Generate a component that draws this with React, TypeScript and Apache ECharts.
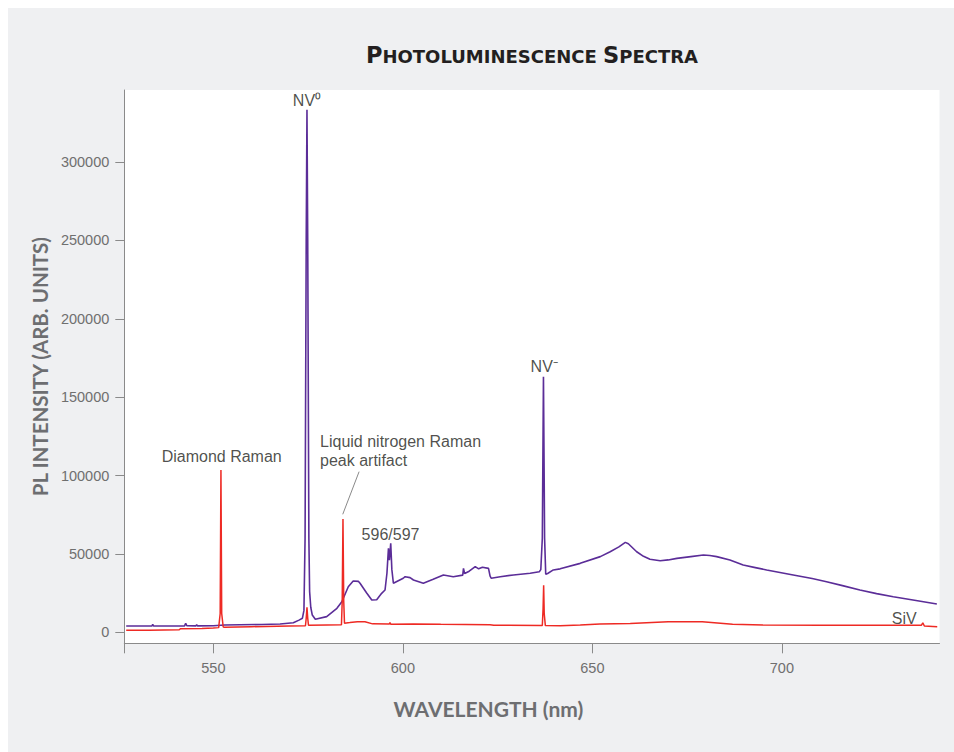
import { useEffect, useRef } from "react";
import * as echarts from "echarts";

// ---- Data ----
const purpleWavelength = [
  527.0, 530.0, 533.8, 534.0, 534.2, 538.0, 542.4, 542.7, 543.0, 545.4, 545.6, 545.8, 550.0, 553.0, 557.0,
  562.8, 567.6, 571.1, 572.6, 573.5, 573.9, 574.2, 574.5, 574.7, 574.9, 575.2, 575.4, 575.7, 576.1, 576.9,
  579.9, 582.6, 583.9, 585.6, 586.9, 588.3, 588.7, 590.5, 591.8, 593.1, 594.4, 595.3, 595.8, 596.2, 596.45,
  596.8, 597.1, 597.5, 600.1, 600.6, 601.9, 602.8, 605.4, 608.0, 610.7, 613.3, 615.8, 616.0, 616.3, 617.5,
  619.1, 620.0, 621.0, 622.6, 623.0, 623.3, 625.7, 629.2, 633.6, 636.0, 636.4, 636.8, 637.1, 637.4, 637.7,
  638.2, 639.7, 641.5, 646.8, 652.1, 654.7, 657.0, 658.7, 659.5, 661.7, 663.5, 665.2, 667.9, 670.0, 672.3,
  676.0, 679.3, 681.0, 682.8, 686.3, 689.8, 693.0, 696.0, 703.0, 708.0, 711.8, 716.0, 720.6, 725.0, 729.4,
  735.0, 740.9,
];
const purpleIntensity = [
  4000, 4050, 4000, 5200, 4000, 4050, 4100, 5800, 4200, 4100, 4800, 4100, 4200, 4700, 4800,
  5000, 5300, 6100, 7800, 9000, 14000, 60000, 250000, 333400, 250000, 60000, 26000, 16000, 11000, 8300,
  10000, 15300, 19500, 29100, 32700, 32500, 31300, 24900, 20600, 20800, 24900, 27000, 37700, 53600, 46100,
  56800, 40000, 31300, 34500, 35500, 34900, 33400, 31300, 33800, 36600, 35500, 36500, 40800, 37500, 39000,
  41900, 40500, 41500, 40800, 36000, 34500, 35500, 36600, 37700, 38700, 40000, 60000, 163000, 60000, 37000,
  37500, 39800, 40500, 44000, 48300, 51400, 54500, 57400, 56500, 51400, 48500, 46600, 45700, 46200, 47200,
  48300, 49300, 49000, 48300, 46100, 42900, 41300, 39800, 36600, 34300, 32300, 29800, 27000, 24700, 22700,
  20500, 18100,
];

const redWavelength = [
  527.0, 533.0, 541.0, 541.3, 547.0, 550.0, 551.4, 551.8, 552.0, 552.2, 552.6, 553.0, 560.0, 570.0, 574.3,
  574.5, 574.7, 574.9, 575.1, 580.0, 583.8, 584.0, 584.2, 584.4, 584.6, 586.0, 588.0, 590.0, 592.0, 596.4,
  596.6, 596.8, 602.7, 610.0, 623.0, 624.0, 636.8, 637.0, 637.15, 637.3, 637.6, 641.5, 646.8, 652.0, 660.0,
  670.0, 679.0, 687.0, 695.0, 710.0, 736.8, 737.2, 737.6, 741.0,
];
const redIntensity = [
  1300, 1400, 1600, 2300, 2400, 2700, 3000, 12000, 103600, 12000, 3400, 3200, 3600, 4000, 4200,
  9000, 16000, 9000, 4500, 4700, 4800, 20000, 72300, 20000, 5800, 6200, 6800, 6700, 5400, 5300,
  6200, 5200, 5300, 5100, 4900, 4500, 4400, 15000, 30000, 12000, 4300, 4200, 4700, 5300, 5700,
  6800, 6800, 5100, 4600, 4500, 4500, 6100, 4000, 3600,
];

const annotationLabels = ["NV\u2070", "NV\u207B", "Diamond Raman", "Liquid nitrogen Raman\npeak artifact", "596/597", "SiV"];
const annotationWavelength = [574.7, 637.3, 552.2, 578.15, 596.75, 732.3];
const annotationIntensity = [339100, 169500, 111900, 115700, 62100, 8900];

const leaderStart = [588.45, 102500];
const leaderEnd = [584.14, 75300];

const xTickLabels = [550, 600, 650, 700];
const yTickLabels = [0, 50000, 100000, 150000, 200000, 250000, 300000];

const X_MIN = 526.5;
const X_MAX = 741.6;
const Y_MIN = -7000;
const Y_MAX = 346000;

const PURPLE = "#5b2d98";
const RED = "#ee2a24";
const AXIS_GRAY = "#8a8a8a";
const LABEL_GRAY = "#6f6f6f";
const NAME_GRAY = "#6d6e71";
const TEXT_DARK = "#231f20";
const BG = "#eff0f2";
const SANS = "'Liberation Sans', Arial, Helvetica, sans-serif";
const NAME_FONT = "Lato, 'Open Sans', sans-serif";
const TITLE_FONT = "'DejaVu Sans', Lato, sans-serif";

export default function App() {
  const ref = useRef<HTMLDivElement>(null);

  useEffect(() => {
    document.documentElement.style.overflow = "hidden";
    document.body.style.overflow = "hidden";
    const chart = echarts.init(ref.current!, null, { renderer: "svg" });

    const purpleData = purpleWavelength.map((w, i) => [w, purpleIntensity[i]]);
    const redData = redWavelength.map((w, i) => [w, redIntensity[i]]);
    const annData = annotationLabels.map((t, i) => ({
      name: t,
      value: [annotationWavelength[i], annotationIntensity[i]],
      label: { align: t.indexOf("\n") >= 0 ? "left" : "center" },
    }));

    chart.setOption({
      animation: false,
      backgroundColor: BG,
      title: {
        text: "{b|P}{s|HOTOLUMINESCENCE} {b|S}{s|PECTRA}",
        left: 519,
        top: 30,
        textAlign: "center",
        textStyle: {
          fontFamily: TITLE_FONT,
          fontWeight: "bold",
          fontSize: 18,
          color: TEXT_DARK,
          rich: {
            b: { fontFamily: TITLE_FONT, fontWeight: "bold", fontSize: 22.5, color: TEXT_DARK },
            s: { fontFamily: TITLE_FONT, fontWeight: "bold", fontSize: 18, color: TEXT_DARK, padding: [3, 0, 0, 0] },
          },
        },
      },
      grid: {
        left: 116.3,
        top: 82,
        width: 815.2,
        height: 553.3,
        show: true,
        backgroundColor: "#ffffff",
        borderWidth: 0,
      },
      xAxis: {
        type: "value",
        min: X_MIN,
        max: X_MAX,
        name: "WAVELENGTH (nm)",
        nameLocation: "middle",
        nameGap: 55,
        nameTextStyle: {
          fontFamily: NAME_FONT,
          fontWeight: "bold",
          fontSize: 21,
          color: NAME_GRAY,
          padding: [0, 87, 0, 0],
        },
        axisLine: { show: true, onZero: false, lineStyle: { color: AXIS_GRAY, width: 1 } },
        axisTick: {
          show: true,
          length: 10,
          customValues: [X_MIN, ...xTickLabels],
          lineStyle: { color: AXIS_GRAY, width: 1 },
        },
        axisLabel: {
          customValues: xTickLabels,
          margin: 17,
          fontFamily: SANS,
          fontSize: 14.5,
          color: LABEL_GRAY,
          formatter: (v: number) => String(v),
        },
        splitLine: { show: false },
      },
      yAxis: {
        type: "value",
        min: Y_MIN,
        max: Y_MAX,
        name: "PL INTENSITY (ARB. UNITS)",
        nameLocation: "middle",
        nameGap: 72,
        nameTextStyle: {
          fontFamily: NAME_FONT,
          fontWeight: "bold",
          fontSize: 20.5,
          color: NAME_GRAY,
        },
        axisLine: { show: true, onZero: false, lineStyle: { color: AXIS_GRAY, width: 1 } },
        axisTick: {
          show: true,
          length: 9,
          customValues: yTickLabels,
          lineStyle: { color: AXIS_GRAY, width: 1 },
        },
        axisLabel: {
          customValues: yTickLabels,
          margin: 15,
          fontFamily: SANS,
          fontSize: 14.5,
          color: LABEL_GRAY,
          formatter: (v: number) => String(v),
        },
        splitLine: { show: false },
      },
      series: [
        {
          name: "Purple spectrum",
          type: "line",
          data: purpleData,
          showSymbol: false,
          symbol: "none",
          lineStyle: { color: PURPLE, width: 1.6 },
          itemStyle: { color: PURPLE },
          z: 2,
          silent: true,
        },
        {
          name: "Red spectrum",
          type: "line",
          data: redData,
          showSymbol: false,
          symbol: "none",
          lineStyle: { color: RED, width: 1.5 },
          itemStyle: { color: RED },
          z: 3,
          silent: true,
        },
        {
          name: "Annotations",
          type: "scatter",
          data: annData,
          symbolSize: 1,
          itemStyle: { color: "rgba(0,0,0,0)" },
          silent: true,
          z: 4,
          label: {
            show: true,
            position: "inside",
            verticalAlign: "middle",
            formatter: "{b}",
            fontFamily: SANS,
            fontSize: 16,
            lineHeight: 19,
            color: TEXT_DARK,
          },
          markLine: {
            silent: true,
            symbol: ["none", "none"],
            label: { show: false },
            lineStyle: { color: AXIS_GRAY, width: 1, type: "solid" },
            data: [[{ coord: leaderStart }, { coord: leaderEnd }]],
          },
        },
      ],
    });

    return () => chart.dispose();
  }, []);

  return (
    <div
      ref={ref}
      style={{ position: "absolute", left: 8, top: 8, width: 960, height: 760, background: BG }}
    />
  );
}
